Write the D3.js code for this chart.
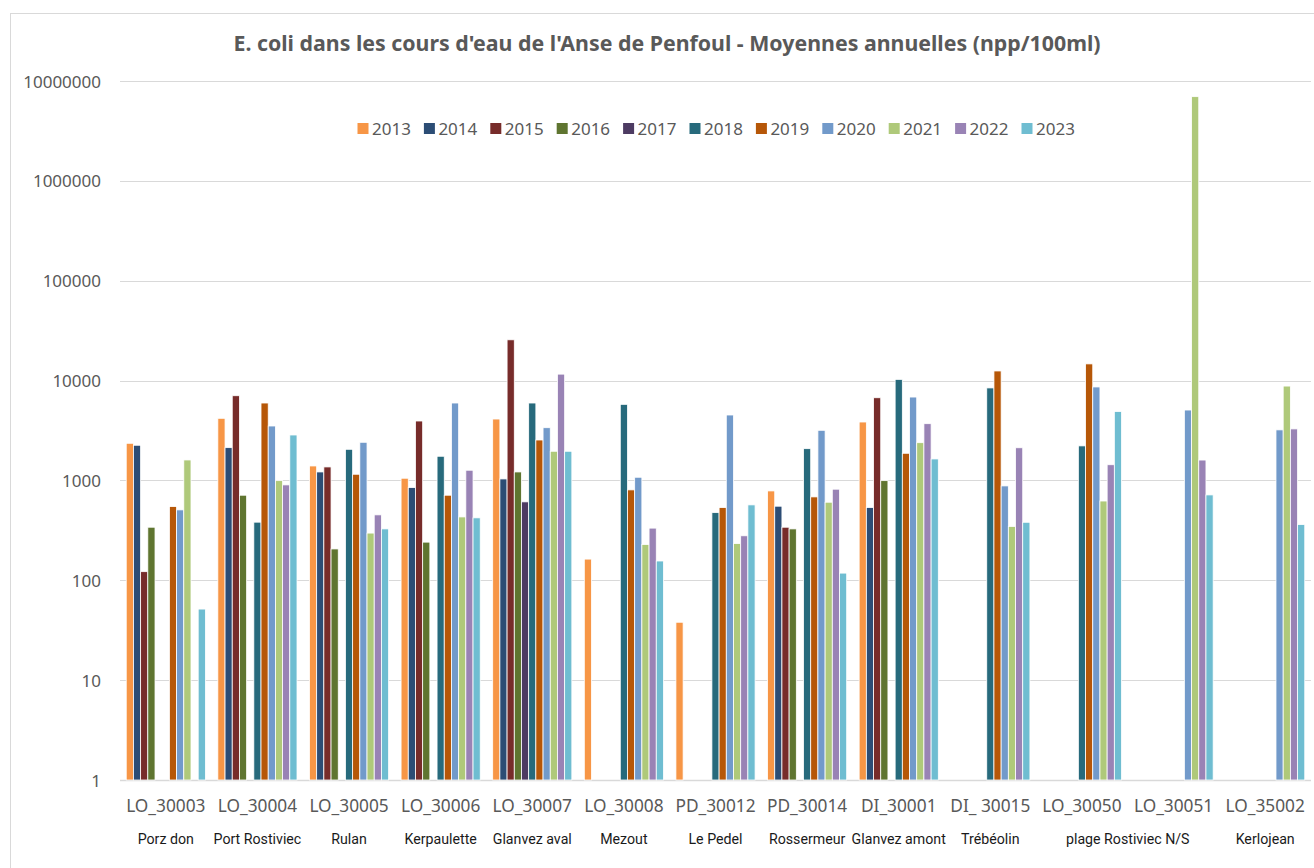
<!DOCTYPE html>
<html>
<head>
<meta charset="utf-8">
<script src="https://cdn.jsdelivr.net/npm/d3@7"></script>
<style>
  body { margin: 0; background: #fff; }
  text { font-family: "Noto Sans", "DejaVu Sans", sans-serif; }
</style>
</head>
<body>
<div id="chart-area"></div>
<script>

// stations (x axis) and the place names written under them
var categories = ["LO_30003", "LO_30004", "LO_30005", "LO_30006", "LO_30007", "LO_30008",
    "PD_30012", "PD_30014", "DI_30001", "DI_ 30015", "LO_30050", "LO_30051", "LO_35002"];
var placeNames = ["Porz don", "Port Rostiviec", "Rulan", "Kerpaulette", "Glanvez aval", "Mezout",
    "Le Pedel", "Rossermeur", "Glanvez amont", "Trébéolin", "plage Rostiviec N/S", "Kerlojean"];
// first and last station covered by each place name
var placeSpans = [[0, 0], [1, 1], [2, 2], [3, 3], [4, 4], [5, 5], [6, 6], [7, 7], [8, 8], [9, 9], [10, 11], [12, 12]];

var years = ["2013", "2014", "2015", "2016", "2017", "2018", "2019", "2020", "2021", "2022", "2023"];
var colors = ["#F79646", "#2C4D75", "#772C2A", "#5F7530", "#4D3B62", "#276A7C",
    "#B65708", "#729ACA", "#AFC97A", "#9983B5", "#6FBDD1"];

// annual means, npp/100ml (null = no value)
var v2013 = [2355, 4190, 1396, 1052, 4120, 163, 38, 785, 3846, null, null, null, null];
var v2014 = [2250, 2130, 1216, 848, 1035, null, null, 552, 535, null, null, null, null];
var v2015 = [122, 7050, 1365, 3936, 25600, null, null, 340, 6730, null, null, null, null];
var v2016 = [340, 711, 206, 241, 1216, null, null, 327, 995, null, null, null, null];
var v2017 = [null, null, null, null, 610, null, null, null, null, null, null, null, null];
var v2018 = [null, 382, 2050, 1746, 5960, 5780, 476, 2080, 10280, 8440, 2218, null, null];
var v2019 = [547, 5960, 1153, 711, 2540, 804, 535, 684, 1870, 12480, 14690, null, null];
var v2020 = [507, 3508, 2410, 5960, 3373, 1076, 4520, 3177, 6840, 881, 8630, 5070, 3208];
var v2021 = [1603, 995, 297, 431, 1959, 228, 233, 605, 2388, 346, 622, 6970000, 8810];
var v2022 = [null, 902, 452, 1265, 11600, 333, 279, 817, 3700, 2124, 1436, 1600, 3280];
var v2023 = [51.5, 2851, 327, 422, 1959, 156, 569, 118, 1641, 381, 4900, 716, 361];

var yTicks = [1, 10, 100, 1000, 10000, 100000, 1000000, 10000000];

var series = [v2013, v2014, v2015, v2016, v2017, v2018, v2019, v2020, v2021, v2022, v2023];

var W = 1314, H = 868;
var margin = { left: 120, right: 3, top: 81, bottom: 88 };
var width = W - margin.left - margin.right,
    height = H - margin.top - margin.bottom;

var svg = d3.select("#chart-area")
    .append("svg")
    .attr("width", W)
    .attr("height", H);

// chart frame
svg.append("rect")
    .attr("x", 10.5).attr("y", 13.5)
    .attr("width", W + 10).attr("height", H + 10)
    .attr("fill", "#fff")
    .attr("stroke", "#d9d9d9");

var g = svg.append("g")
    .attr("transform", "translate(" + margin.left + "," + margin.top + ")");

// scales
var x0 = d3.scaleBand()
    .domain(categories)
    .range([0, width])
    .paddingInner(0.136)
    .paddingOuter(0.068);

var x1 = d3.scaleBand()
    .domain(years)
    .range([0, x0.bandwidth()]);

var y = d3.scaleLog()
    .domain([1, 10000000])
    .range([height, 0]);

// gridlines
g.append("g")
    .selectAll("line")
    .data(yTicks)
    .enter().append("line")
    .attr("x1", 0).attr("x2", width)
    .attr("y1", function(d){ return Math.round(y(d)) + 0.5; })
    .attr("y2", function(d){ return Math.round(y(d)) + 0.5; })
    .attr("stroke", "#d9d9d9")
    .attr("stroke-width", function(d){ return d === 1 ? 1.5 : 1; });

// y axis labels
var yAxis = g.append("g")
    .call(d3.axisLeft(y).tickValues(yTicks).tickSize(0).tickPadding(19)
        .tickFormat(function(d){ return d3.format("d")(d); }));
yAxis.select(".domain").remove();
yAxis.selectAll("text")
    .attr("font-size", "17px")
    .attr("fill", "#595959")
    .attr("dy", "0.36em")
    .style("font-family", "'Noto Sans', sans-serif");

// bars
var groups = g.append("g")
    .selectAll("g")
    .data(series)
    .enter().append("g")
    .attr("fill", function(d, i){ return colors[i]; });

groups.each(function(vals, si){
    d3.select(this).selectAll("rect")
        .data(vals.map(function(v, ci){ return { v: v, c: categories[ci] }; })
            .filter(function(d){ return d.v != null; }))
        .enter().append("rect")
        .attr("x", function(d){ return x0(d.c) + x1(years[si]); })
        .attr("width", x1.bandwidth())
        .attr("y", function(d){ return y(d.v); })
        .attr("height", function(d){ return height - y(d.v); })
        .attr("stroke", "#fff")
        .attr("stroke-width", 0.8);
});

// x axis labels
var xAxis = g.append("g")
    .attr("transform", "translate(0," + height + ")")
    .call(d3.axisBottom(x0).tickSize(0).tickPadding(20));
xAxis.select(".domain").remove();
xAxis.selectAll("text")
    .attr("font-size", "17.3px")
    .attr("fill", "#595959")
    .style("font-family", "'Noto Sans', sans-serif");

// second row: place names (narrower face, like the original)
g.append("g")
    .selectAll("text")
    .data(placeNames)
    .enter().append("text")
    .attr("x", function(d, i){
        var s = placeSpans[i];
        return (x0(categories[s[0]]) + x0(categories[s[1]]) + x0.bandwidth()) / 2;
    })
    .attr("y", height + 64)
    .attr("text-anchor", "middle")
    .attr("font-size", "14.2px")
    .attr("fill", "#1a1a1a")
    .style("font-family", "Roboto, 'Noto Sans', sans-serif")
    .text(function(d){ return d; });

// title, fitted to the reference width
var title = svg.append("text")
    .attr("x", 667)
    .attr("y", 51)
    .attr("text-anchor", "middle")
    .attr("font-weight", "bold")
    .attr("font-size", "20px")
    .attr("fill", "#595959")
    .text("E. coli dans les cours d'eau de l'Anse de Penfoul - Moyennes annuelles (npp/100ml)");
var tw = title.node().getComputedTextLength();
title.attr("font-size", (20 * 867 / tw).toFixed(2) + "px");

// legend
var legend = svg.append("g")
    .selectAll("g")
    .data(years)
    .enter().append("g")
    .attr("transform", function(d, i){ return "translate(" + (357.5 + i * 66.4) + ",123)"; });
legend.append("rect")
    .attr("width", 11).attr("height", 11)
    .attr("fill", function(d, i){ return colors[i]; });
legend.append("text")
    .attr("x", 14.5)
    .attr("y", 11.5)
    .attr("font-size", "17px")
    .attr("fill", "#595959")
    .text(function(d){ return d; });

</script>
</body>
</html>
